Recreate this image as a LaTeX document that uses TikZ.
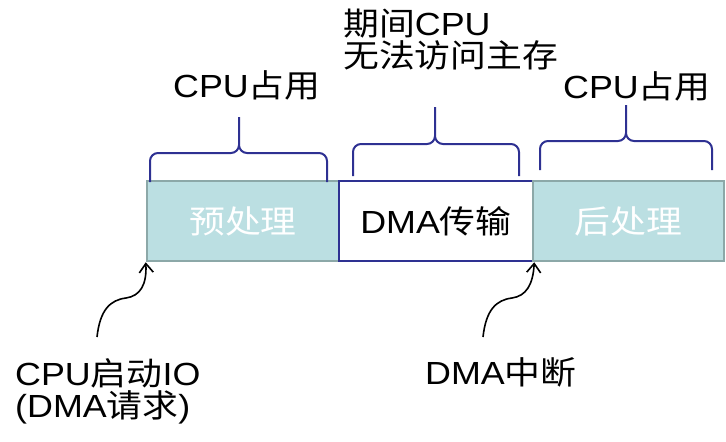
\documentclass[tikz,border=0pt]{standalone}
\usepackage{fontspec}
\setmainfont{Liberation Sans}[FakeStretch=1.12]
\newfontfamily\cjk{Noto Sans CJK SC}[FakeStretch=1.12]
\usetikzlibrary{arrows.meta}
\definecolor{tealfill}{HTML}{BBDFE2}
\definecolor{tealline}{HTML}{8CA8A8}
\definecolor{navy}{HTML}{2E3192}
\begin{document}
\begin{tikzpicture}[x=1pt,y=-1pt,
  lbl/.style={inner sep=0pt, anchor=base west, font=\fontsize{32}{32}\selectfont, align=left},
  tealbox/.style={draw=tealline, fill=tealfill, line width=2.5pt, minimum height=80pt, inner sep=0pt, font=\fontsize{32}{32}\selectfont, text=white},
  dmabox/.style={draw=navy, fill=white, line width=2.5pt, minimum height=80pt, inner sep=0pt, font=\fontsize{32}{32}\selectfont},
  bracepath/.style={draw=navy, line width=2pt, rounded corners=8pt},
  curvy/.style={-{Straight Barb[length=9pt,width=14pt]}, line width=1.6pt}
]
\useasboundingbox (0,0) rectangle (726,442);
% boxes
\node[tealbox, minimum width=192pt] (pre) at (243,221) {\cjk 预处理};
\node[dmabox, minimum width=194pt] (dma) at (436,221) {DMA{\cjk 传输}};
\node[tealbox, minimum width=191pt] (post) at (628.5,221) {\cjk 后处理};
% braces
\draw[bracepath] (150,182) |- (239,153) -- (239,117) (327,182) |- (239,153) -- (239,117);
\draw[bracepath] (353,176) |- (435,144) -- (435,107) (519,176) |- (435,144) -- (435,107);
\draw[bracepath] (540,170) |- (626,141) -- (626,105) (712,170) |- (626,141) -- (626,105);
% labels
\node[lbl] (cpu1) at (173,97) {CPU{\cjk 占用}};
\node[lbl] (cpubusy) at (343,67) {{\cjk 期间}CPU\\{\cjk 无法访问主存}};
\node[lbl] (cpu2) at (563,98) {CPU{\cjk 占用}};
\node[lbl] (start) at (15,417) {CPU{\cjk 启动}IO\\(DMA{\cjk 请求})};
\node[lbl] (irq) at (425,384) {DMA{\cjk 中断}};
% arrows
\coordinate (t1) at (97,337);
\coordinate (t2) at (483,337);
\draw[curvy] (t1) .. controls (100,310) and (110,300) .. (126,298) .. controls (140,296) and (147,285) .. (pre.south west);
\draw[curvy] (t2) .. controls (486,310) and (496,300) .. (512,298) .. controls (526,296) and (533,285) .. (dma.south east);
\end{tikzpicture}
\end{document}
